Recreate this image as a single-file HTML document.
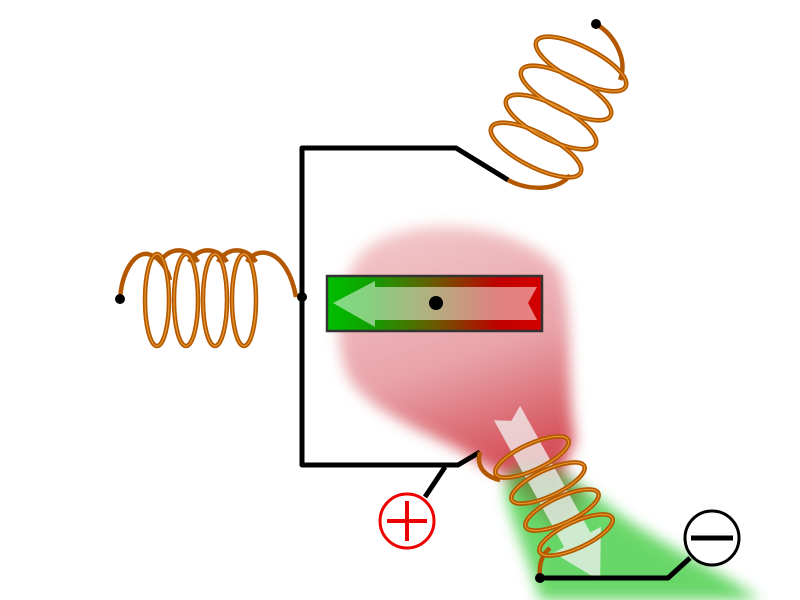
<!DOCTYPE html>
<html><head><meta charset="utf-8"><style>html,body{margin:0;padding:0;background:#fff}svg{display:block}</style></head>
<body>
<svg width="800" height="600" viewBox="0 0 800 600" xmlns="http://www.w3.org/2000/svg">
<defs>
<filter id="b" x="-30%" y="-30%" width="160%" height="160%"><feGaussianBlur stdDeviation="7"/></filter>
<linearGradient id="pk" x1="0" y1="0" x2="0.3" y2="1">
<stop offset="0" stop-color="#f3c6c9"/><stop offset="0.6" stop-color="#e69aa0"/><stop offset="1" stop-color="#d2404a"/></linearGradient>
<linearGradient id="gr" x1="0" y1="0" x2="1" y2="0">
<stop offset="0" stop-color="#00c000"/><stop offset="0.2" stop-color="#0fa000"/><stop offset="0.5" stop-color="#6a5a00"/><stop offset="0.8" stop-color="#c00000"/><stop offset="1" stop-color="#d40000"/></linearGradient>
</defs>
<path d="M380,240 C430,215 520,225 560,270 C575,320 565,380 575,440 L555,490 C520,485 490,470 460,450 C420,430 370,410 350,380 C330,340 335,260 380,240 Z" fill="url(#pk)" filter="url(#b)" opacity="0.9"/>
<path d="M515,470 C560,470 590,490 620,515 C670,550 720,570 760,600 L540,600 C530,560 510,520 505,490 Z" fill="#4fd04f" filter="url(#b)" opacity="0.85"/>
<path d="M505,480 C540,450 560,460 585,495 L560,530 Z" fill="#6b6a30" filter="url(#b)" opacity="0.5"/>
<g transform="translate(507,413) rotate(-29)" opacity="0.75">
<polygon points="-15,0 0,9 15,0 15,145 27,145 0,192 -27,145 -15,145" fill="#f2f2f2"/>
</g>
<g fill="none" stroke="#000" stroke-width="5" stroke-linejoin="round">
<path d="M508,180 L456,148 L302,148 L302,465 L458,465 L480,452"/>
<path d="M445,467 L425,497"/>
<path d="M540,578 L668,578 L690,558"/>
</g>
<circle cx="407" cy="521" r="27" fill="#fff" stroke="#e00" stroke-width="3"/>
<path d="M387,521 H427 M407,501 V541" stroke="#e00" stroke-width="4"/>
<circle cx="712" cy="538" r="27" fill="#fff" stroke="#000" stroke-width="3"/>
<path d="M691,538 H733" stroke="#000" stroke-width="5"/>
<rect x="327" y="276" width="215" height="55" fill="url(#gr)" stroke="#333" stroke-width="2.5"/>
<polygon points="333,303 375,281 375,287 537,287 528,303 537,320 375,320 375,327" fill="#fff" opacity="0.5"/>
<circle cx="436" cy="303" r="7" fill="#000"/>
<g fill="none" stroke="#b35800" stroke-width="4.5">
<path d="M120,299 C122,270 135,252 148,254 C160,257 168,270 170,280"/>
<path d="M160,262 C170,245 190,248 198,262"/>
<path d="M189,262 C199,245 219,248 227,262"/>
<path d="M218,262 C228,245 248,248 256,262"/>
<path d="M247,262 C257,245 287,248 296,297"/>
<ellipse cx="157" cy="300" rx="12" ry="46"/>
<ellipse cx="186" cy="300" rx="12" ry="46"/>
<ellipse cx="215" cy="300" rx="12" ry="46"/>
<ellipse cx="244" cy="300" rx="12" ry="46"/>
<ellipse cx="536" cy="150" rx="50" ry="17" transform="rotate(27 536 150)"/>
<ellipse cx="551" cy="122" rx="50" ry="17" transform="rotate(27 551 122)"/>
<ellipse cx="566" cy="93" rx="50" ry="17" transform="rotate(27 566 93)"/>
<ellipse cx="581" cy="64" rx="50" ry="17" transform="rotate(27 581 64)"/>
<path d="M508,180 C530,192 560,190 570,175"/>
<path d="M596,24 C615,35 628,60 620,80"/>
<ellipse cx="532" cy="457" rx="40" ry="13" transform="rotate(-25 532 457)"/>
<ellipse cx="548" cy="483" rx="40" ry="13" transform="rotate(-25 548 483)"/>
<ellipse cx="562" cy="510" rx="40" ry="13" transform="rotate(-25 562 510)"/>
<ellipse cx="576" cy="535" rx="40" ry="13" transform="rotate(-25 576 535)"/>
<path d="M480,452 C475,470 490,478 500,480"/>
<path d="M540,578 C538,560 545,552 550,548"/>
</g>
<g fill="none" stroke="#e8962e" stroke-width="1.2">
<ellipse cx="157" cy="300" rx="12" ry="46"/><ellipse cx="186" cy="300" rx="12" ry="46"/><ellipse cx="215" cy="300" rx="12" ry="46"/><ellipse cx="244" cy="300" rx="12" ry="46"/>
<ellipse cx="536" cy="150" rx="50" ry="17" transform="rotate(27 536 150)"/>
<ellipse cx="551" cy="122" rx="50" ry="17" transform="rotate(27 551 122)"/>
<ellipse cx="566" cy="93" rx="50" ry="17" transform="rotate(27 566 93)"/>
<ellipse cx="581" cy="64" rx="50" ry="17" transform="rotate(27 581 64)"/>
<ellipse cx="532" cy="457" rx="40" ry="13" transform="rotate(-25 532 457)"/>
<ellipse cx="548" cy="483" rx="40" ry="13" transform="rotate(-25 548 483)"/>
<ellipse cx="562" cy="510" rx="40" ry="13" transform="rotate(-25 562 510)"/>
<ellipse cx="576" cy="535" rx="40" ry="13" transform="rotate(-25 576 535)"/>
</g>
<circle cx="120" cy="299" r="5" fill="#000"/>
<circle cx="302" cy="297" r="5" fill="#000"/>
<circle cx="596" cy="24" r="5" fill="#000"/>
<circle cx="540" cy="578" r="5" fill="#000"/>
</svg>
</body></html>
